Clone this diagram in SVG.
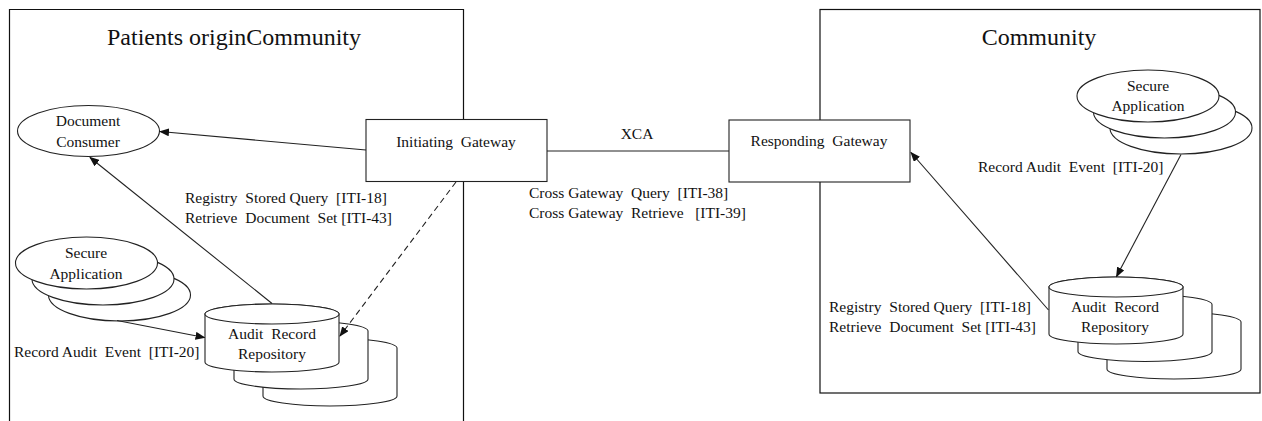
<svg xmlns="http://www.w3.org/2000/svg" width="1262" height="421" viewBox="0 0 1262 421" xml:space="preserve">
<style>
text{font-family:"Liberation Serif","Times New Roman",serif;fill:#111;white-space:pre;}
.t{font-size:15.5px;}
.title{font-size:24px;text-anchor:middle;}
.c{text-anchor:middle;}
.frame{fill:none;stroke:#111;stroke-width:1.2;}
.shape{fill:#fff;stroke:#222;stroke-width:1.1;}
.link{fill:none;stroke:#222;stroke-width:1.1;}
.dash{stroke-dasharray:6 4;}
</style>
<defs>
<marker id="arr" markerWidth="10" markerHeight="8" refX="9" refY="4" orient="auto" markerUnits="userSpaceOnUse">
<path d="M0,0 L10,4 L0,8 z" fill="#111"/>
</marker>
</defs>
<rect width="1262" height="421" fill="#fff"/>
<g id="community-left">
<path class="frame" d="M9.5,425 V9.5 H463.5 V425"/>
<text class="title" x="234" y="45">Patients originCommunity</text>
</g>
<g id="community-right">
<rect class="frame" x="820" y="9.5" width="440" height="383.5"/>
<text class="title" x="1039" y="45">Community</text>
</g>
<g id="initiating-gateway">
<rect class="shape" x="366" y="119.5" width="181" height="62"/>
<text class="t c" x="456" y="147">Initiating  Gateway</text>
</g>
<g id="responding-gateway">
<rect class="shape" x="729" y="120" width="181" height="62"/>
<text class="t c" x="819" y="146">Responding  Gateway</text>
</g>
<g id="document-consumer">
<ellipse class="shape" cx="88.5" cy="131" rx="71" ry="25.5"/>
<text class="t c" x="88" y="126">Document</text>
<text class="t c" x="88" y="147">Consumer</text>
</g>
<g id="secure-app-left">
<ellipse class="shape" cx="119.5" cy="295" rx="71" ry="26"/>
<ellipse class="shape" cx="103" cy="279" rx="71" ry="26"/>
<ellipse class="shape" cx="86.5" cy="263" rx="71" ry="26"/>
<text class="t c" x="86" y="258">Secure</text>
<text class="t c" x="86" y="278.5">Application</text>
</g>
<g id="audit-repo-left">
<path class="shape" d="M263,348 A67,10 0 0 1 397,348 V396 A67,10 0 0 1 263,396 Z"/>
<path class="shape" d="M234,331 A67,10 0 0 1 368,331 V379 A67,10 0 0 1 234,379 Z"/>
<path class="shape" d="M205,314 A67,10 0 0 1 339,314 V362 A67,10 0 0 1 205,362 Z"/>
<ellipse class="shape" cx="272" cy="314" rx="67" ry="10"/>
<text class="t c" x="272" y="338.5">Audit  Record</text>
<text class="t c" x="272" y="358.5">Repository</text>
</g>
<g id="secure-app-right">
<ellipse class="shape" cx="1181" cy="128" rx="71" ry="26"/>
<ellipse class="shape" cx="1164.5" cy="112" rx="71" ry="26"/>
<ellipse class="shape" cx="1148" cy="96" rx="71" ry="26"/>
<text class="t c" x="1148" y="90.5">Secure</text>
<text class="t c" x="1148" y="111">Application</text>
</g>
<g id="audit-repo-right">
<path class="shape" d="M1107,322 A67,10 0 0 1 1241,322 V369 A67,10 0 0 1 1107,369 Z"/>
<path class="shape" d="M1078,304.5 A67,10 0 0 1 1212,304.5 V351.5 A67,10 0 0 1 1078,351.5 Z"/>
<path class="shape" d="M1049,287 A67,10 0 0 1 1183,287 V334 A67,10 0 0 1 1049,334 Z"/>
<ellipse class="shape" cx="1116" cy="287" rx="67" ry="10"/>
<text class="t c" x="1115" y="312">Audit  Record</text>
<text class="t c" x="1115" y="332">Repository</text>
</g>
<g id="connectors">
<line class="link" x1="547" y1="151" x2="729" y2="151"/>
<line class="link" x1="366" y1="150" x2="160" y2="131.5" marker-end="url(#arr)"/>
<line class="link" x1="272" y1="303.5" x2="90" y2="157.5" marker-end="url(#arr)"/>
<line class="link dash" x1="456" y1="182" x2="340" y2="336" marker-end="url(#arr)"/>
<line class="link" x1="117" y1="320.5" x2="204.5" y2="337.5" marker-end="url(#arr)"/>
<line class="link" x1="1181" y1="154.5" x2="1116.5" y2="276.5" marker-end="url(#arr)"/>
<line class="link" x1="1048.5" y1="310" x2="911" y2="152.5" marker-end="url(#arr)"/>
<text class="t c" x="637" y="139">XCA</text>
<text class="t" x="529" y="198">Cross Gateway  Query  [ITI-38]</text>
<text class="t" x="529" y="218">Cross Gateway  Retrieve   [ITI-39]</text>
<text class="t" x="185" y="203">Registry  Stored Query  [ITI-18]</text>
<text class="t" x="185" y="223">Retrieve  Document  Set [ITI-43]</text>
<text class="t" x="14" y="357">Record Audit  Event  [ITI-20]</text>
<text class="t" x="978" y="172">Record Audit  Event  [ITI-20]</text>
<text class="t" x="829" y="312">Registry  Stored Query  [ITI-18]</text>
<text class="t" x="829" y="332">Retrieve  Document  Set [ITI-43]</text>
</g>
</svg>
